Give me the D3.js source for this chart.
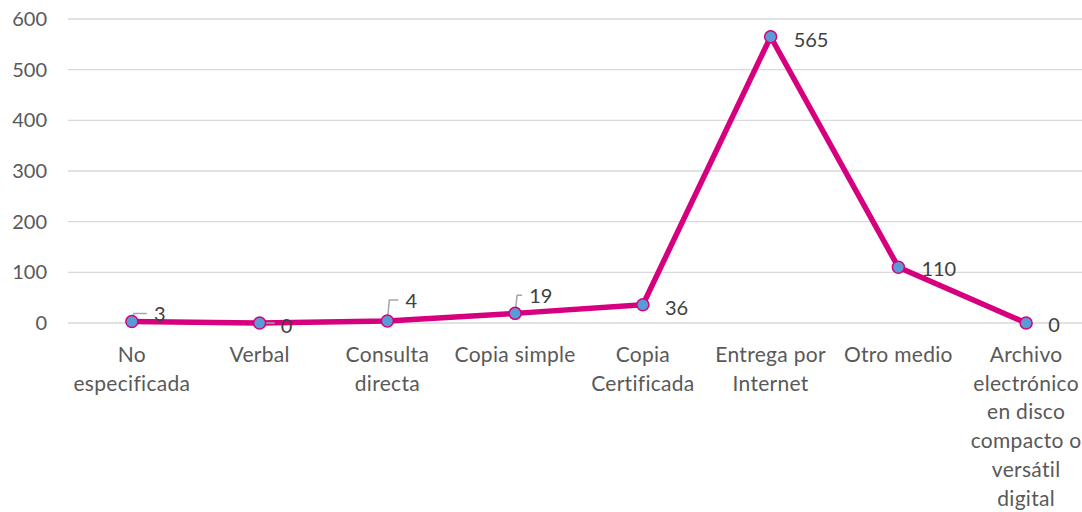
<!DOCTYPE html>
<html>
<head>
<meta charset="utf-8">
<script src="https://cdn.jsdelivr.net/npm/d3@7"></script>
<style>
  body { margin: 0; background: #fff; }
  svg { font-family: Lato, "Open Sans", sans-serif; }
</style>
</head>
<body>
<div id="chart"></div>
<script>
const categories = [
  ["No", "especificada"],
  ["Verbal"],
  ["Consulta", "directa"],
  ["Copia simple"],
  ["Copia", "Certificada"],
  ["Entrega por", "Internet"],
  ["Otro medio"],
  ["Archivo", "electrónico", "en disco", "compacto o", "versátil", "digital"],
];
const values = [3, 0, 4, 19, 36, 565, 110, 0];
const yTicks = [0, 100, 200, 300, 400, 500, 600];

// label placement (dx, dy from point, and whether a leader line is drawn)
const labelOffsets = [
  { dx: 22, dy: -7, leader: true },
  { dx: 21, dy: 3, leader: "h" },
  { dx: 18, dy: -20, leader: true },
  { dx: 14, dy: -17, leader: true },
  { dx: 22, dy: 3, leader: false },
  { dx: 23, dy: 3, leader: false },
  { dx: 23, dy: 2, leader: false },
  { dx: 22, dy: 2, leader: false },
];

const width = 1082, height = 512;
const margin = { top: 19, right: -8, bottom: 189, left: 68 };
const fontSize = "20px";

const svg = d3.select("#chart").append("svg")
  .attr("width", width).attr("height", height);

const x = d3.scaleBand()
  .domain(d3.range(categories.length))
  .range([margin.left, width - margin.right]);
const y = d3.scaleLinear().domain([0, 600]).range([height - margin.bottom, margin.top]);

// gridlines
svg.append("g").selectAll("line").data(yTicks).join("line")
  .attr("x1", margin.left).attr("x2", width)
  .attr("y1", d => y(d)).attr("y2", d => y(d))
  .attr("stroke", "#d9d9d9").attr("stroke-width", 1.3);

// y tick labels
svg.append("g").selectAll("text").data(yTicks).join("text")
  .attr("x", 47).attr("y", d => y(d)).attr("dy", "0.35em")
  .attr("text-anchor", "end")
  .attr("fill", "#595959").style("font-size", fontSize)
  .text(d => d);

// category labels
const cx = i => x(i) + x.bandwidth() / 2;
const catG = svg.append("g").selectAll("text").data(categories).join("text")
  .attr("x", (d, i) => cx(i)).attr("y", y(0) + 39)
  .attr("text-anchor", "middle")
  .attr("fill", "#595959").style("font-size", "21px")
  .style("letter-spacing", "0.3px");
catG.selectAll("tspan").data(d => d).join("tspan")
  .attr("x", function () { return this.parentNode.getAttribute("x"); })
  .attr("dy", (d, i) => (i === 0 ? 0 : 28.7))
  .text(d => d);

// line
const line = d3.line().x((d, i) => cx(i)).y(d => y(d));
svg.append("path").datum(values)
  .attr("d", line).attr("fill", "none")
  .attr("stroke", "#d6007f").attr("stroke-width", 5.5)
  .attr("stroke-linejoin", "round");

// leader lines
svg.append("g").selectAll("path").data(values).join("path")
  .attr("d", (d, i) => {
    const o = labelOffsets[i];
    const px = cx(i), py = y(d);
    if (o.leader === "h") return `M${px},${py}H${px + o.dx - 6}`;
    if (!o.leader) return null;
    const ly = py + o.dy - 1;
    return `M${px},${py}L${px + 2},${ly}H${px + o.dx - 7}`;
  })
  .attr("fill", "none").attr("stroke", "#a6a6a6").attr("stroke-width", 1.5);

// markers
svg.append("g").selectAll("circle").data(values).join("circle")
  .attr("cx", (d, i) => cx(i)).attr("cy", d => y(d)).attr("r", 6)
  .attr("fill", "#5b9bd5").attr("stroke", "#d6007f").attr("stroke-width", 1.5);

// data labels
svg.append("g").selectAll("text").data(values).join("text")
  .attr("x", (d, i) => cx(i) + labelOffsets[i].dx)
  .attr("y", (d, i) => y(d) + labelOffsets[i].dy).attr("dy", "0.35em")
  .attr("fill", "#404040").style("font-size", fontSize)
  .text(d => d);
</script>
</body>
</html>
